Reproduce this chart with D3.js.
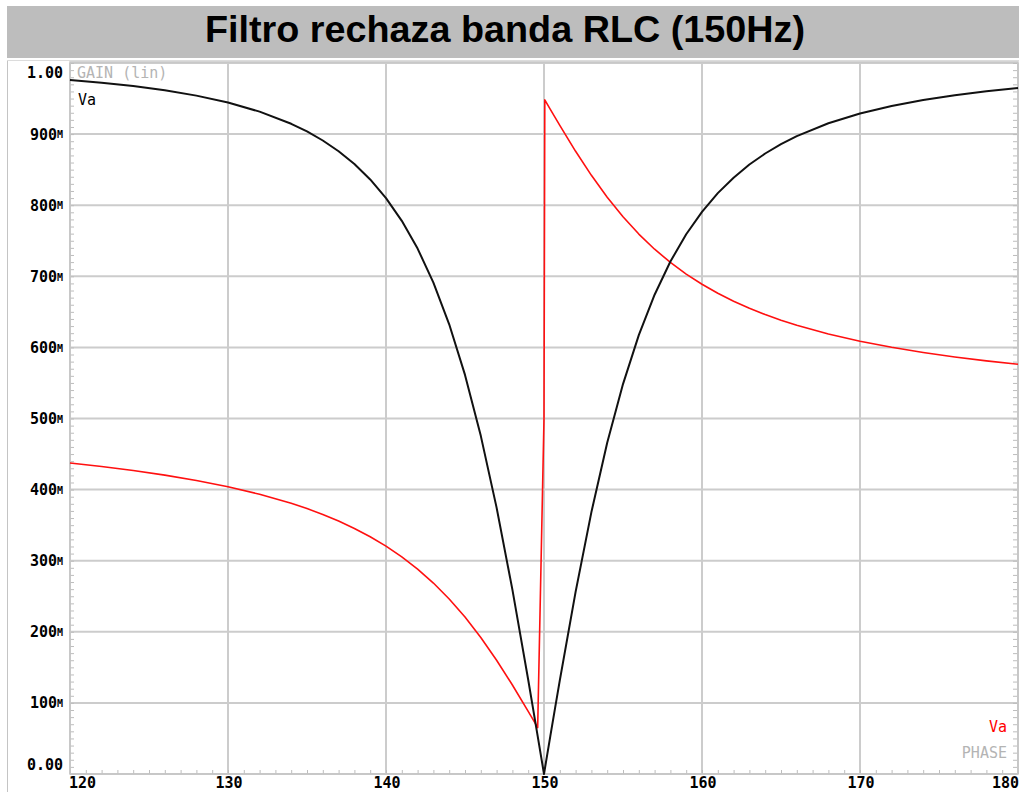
<!DOCTYPE html>
<html>
<head>
<meta charset="utf-8">
<script src="https://cdn.jsdelivr.net/npm/d3@7"></script>
<style>
  html, body { margin: 0; padding: 0; background: #ffffff; }
  svg { display: block; }
</style>
</head>
<body>
<svg id="chart" width="1019" height="792"></svg>
<script>
// AC sweep of the RLC band-reject filter: frequency (Hz), gain magnitude, phase trace
const freqHz = [120, 122, 124, 126, 128, 130, 132, 134, 135, 136, 137, 138, 139, 140,
  141, 142, 143, 144, 145, 146, 147, 148, 149, 149.3, 149.6,
  150, 150.05, 150.4, 150.7, 151, 152, 153, 154, 155, 156, 157, 158, 159,
  160, 161, 162, 163, 164, 165, 166, 168, 170, 172, 174, 176, 178, 180];

const gainVa = [0.9762, 0.9723, 0.9676, 0.9616, 0.9541, 0.9444, 0.9316, 0.9145, 0.9037, 0.8910, 0.8759, 0.8579, 0.8362, 0.8099,
  0.7780, 0.7390, 0.6911, 0.6325, 0.5613, 0.4756, 0.3746, 0.2593, 0.1326, 0.0931, 0.0533,
  0.0000, 0.0067, 0.0532, 0.0927, 0.1317, 0.2561, 0.3683, 0.4658, 0.5484, 0.6172, 0.6741, 0.7208, 0.7591,
  0.7907, 0.8170, 0.8387, 0.8572, 0.8727, 0.8858, 0.8971, 0.9152, 0.9290, 0.9396, 0.9480, 0.9548, 0.9602, 0.9648];

const phaseVa = [0.4374, 0.4324, 0.4268, 0.4204, 0.4129, 0.4040, 0.3934, 0.3807, 0.3733, 0.3650, 0.3557, 0.3454, 0.3337, 0.3205,
  0.3054, 0.2882, 0.2686, 0.2462, 0.2207, 0.1920, 0.1600, 0.1252, 0.0881, 0.0767, 0.0653,
  0.5000, 0.9481, 0.9348, 0.9234, 0.9122, 0.8758, 0.8420, 0.8112, 0.7837, 0.7594, 0.7381, 0.7195, 0.7031,
  0.6888, 0.6761, 0.6650, 0.6550, 0.6462, 0.6383, 0.6311, 0.6188, 0.6086, 0.6001, 0.5928, 0.5865, 0.5811, 0.5763];

const xTickValues = [120, 130, 140, 150, 160, 170, 180];
const xTickLabels = ["120", "130", "140", "150", "160", "170", "180"];
const yTickValues = [0, 0.1, 0.2, 0.3, 0.4, 0.5, 0.6, 0.7, 0.8, 0.9, 1.0];
const yTickNumbers = ["0.00", "100", "200", "300", "400", "500", "600", "700", "800", "900", "1.00"];
const yTickUnits = ["", "M", "M", "M", "M", "M", "M", "M", "M", "M", ""];

const titleText = "Filtro rechaza banda RLC (150Hz)";

const svg = d3.select("#chart");
const W = 1019, H = 792;
const plot = { left: 70, right: 1018, top: 63, bottom: 774 };

const x = d3.scaleLinear().domain([120, 180]).range([plot.left, plot.right]);
const y = d3.scaleLinear().domain([0, 1]).range([plot.bottom, plot.top]);

const gridColor = "#cccccc";
const mono = "'DejaVu Sans Mono', 'Liberation Mono', monospace";

// title band
svg.append("rect").attr("x", 7).attr("y", 6).attr("width", W - 7).attr("height", 52)
  .attr("fill", "#bdbdbd");
svg.append("text")
  .attr("x", 505).attr("y", 42)
  .attr("text-anchor", "middle")
  .attr("font-family", "'Liberation Sans', Arial, sans-serif")
  .attr("font-weight", "bold")
  .attr("font-size", 37)
  .attr("textLength", 600)
  .attr("lengthAdjust", "spacingAndGlyphs")
  .attr("fill", "#000")
  .text(titleText);

// outer window border
svg.append("line").attr("x1", 7.5).attr("x2", 7.5).attr("y1", 60).attr("y2", H)
  .attr("stroke", "#c4c4c4").attr("stroke-width", 1);
svg.append("line").attr("x1", 7).attr("x2", W).attr("y1", 60.5).attr("y2", 60.5)
  .attr("stroke", "#dcdcdc").attr("stroke-width", 1);

// grid
const grid = svg.append("g");
grid.selectAll("line.v").data(xTickValues).join("line")
  .attr("x1", d => x(d)).attr("x2", d => x(d))
  .attr("y1", plot.top).attr("y2", plot.bottom)
  .attr("stroke", gridColor).attr("stroke-width", 2);
grid.selectAll("line.h").data(yTickValues).join("line")
  .attr("x1", plot.left).attr("x2", plot.right)
  .attr("y1", d => y(d)).attr("y2", d => y(d))
  .attr("stroke", gridColor).attr("stroke-width", 2);

// minor ticks pointing into the plot
const minorY = d3.range(0, 101).map(i => i / 100);
const minorX = d3.range(120, 181);
const axL = d3.axisRight(y).tickValues(minorY).tickSize(4).tickFormat("");
const axR = d3.axisLeft(y).tickValues(minorY).tickSize(4).tickFormat("");
const axB = d3.axisTop(x).tickValues(minorX).tickSize(4).tickFormat("");
function styleAxis(g) {
  g.select(".domain").remove();
  g.selectAll(".tick line").attr("stroke", "#bdbdbd").attr("stroke-width", 1);
}
svg.append("g").attr("transform", `translate(${plot.left},0)`).call(axL).call(styleAxis);
svg.append("g").attr("transform", `translate(${plot.right - 1},0)`).call(axR).call(styleAxis);
svg.append("g").attr("transform", `translate(0,${plot.bottom})`).call(axB).call(styleAxis);

// y tick labels
const yLab = svg.append("g")
  .attr("font-family", mono).attr("font-weight", "bold").attr("fill", "#000");
yTickValues.forEach((v, i) => {
  let yy = y(v);
  if (i === yTickValues.length - 1) yy += 10;
  if (i === 0) yy -= 9;
  yLab.append("text")
    .attr("x", yTickUnits[i] ? 57 : 63).attr("y", yy)
    .attr("dy", "0.36em")
    .attr("text-anchor", "end")
    .attr("font-size", 15)
    .attr("fill", "#000")
    .text(yTickNumbers[i]);
  if (yTickUnits[i]) {
    yLab.append("text")
      .attr("x", 57).attr("y", yy).attr("dy", "0.42em")
      .attr("font-size", 10).attr("font-weight", "bold")
      .attr("fill", "#000")
      .text(yTickUnits[i]);
  }
});

// x tick labels
const xLab = svg.append("g")
  .attr("font-family", mono).attr("font-weight", "bold").attr("font-size", 15).attr("fill", "#000");
xTickValues.forEach((v, i) => {
  let anchor = "middle", xx = x(v) + 1;
  if (i === 0) { anchor = "start"; xx = x(v) - 1; }
  if (i === xTickValues.length - 1) { anchor = "end"; xx = x(v) + 1; }
  xLab.append("text").attr("x", xx).attr("y", 788).attr("text-anchor", anchor).text(xTickLabels[i]);
});

// plot frame
svg.append("rect")
  .attr("x", plot.left).attr("y", plot.top - 1)
  .attr("width", plot.right - plot.left).attr("height", plot.bottom - plot.top + 1)
  .attr("fill", "none").attr("stroke", "#c6c6c6").attr("stroke-width", 1.5);

// curves
const pts = freqHz.map((f, i) => ({ f, g: gainVa[i], p: phaseVa[i] }));
const lineGain = d3.line().x(d => x(d.f)).y(d => y(d.g));
const linePhase = d3.line().x(d => x(d.f)).y(d => y(d.p));

svg.append("path").datum(pts).attr("d", linePhase)
  .attr("fill", "none").attr("stroke", "#ff1010").attr("stroke-width", 1.6)
  .attr("stroke-linejoin", "round");
svg.append("path").datum(pts).attr("d", lineGain)
  .attr("fill", "none").attr("stroke", "#111111").attr("stroke-width", 2)
  .attr("stroke-linejoin", "round");

// trace labels
const lab = svg.append("g").attr("font-family", mono).attr("font-size", 15);
lab.append("text").attr("x", 77).attr("y", 78).attr("fill", "#b4b4b4").text("GAIN (lin)");
lab.append("text").attr("x", 78).attr("y", 105).attr("fill", "#000").text("Va");
lab.append("text").attr("x", 1007).attr("y", 732).attr("text-anchor", "end").attr("fill", "#ff0000").text("Va");
lab.append("text").attr("x", 1007).attr("y", 758).attr("text-anchor", "end").attr("fill", "#b4b4b4").text("PHASE");
</script>
</body>
</html>
